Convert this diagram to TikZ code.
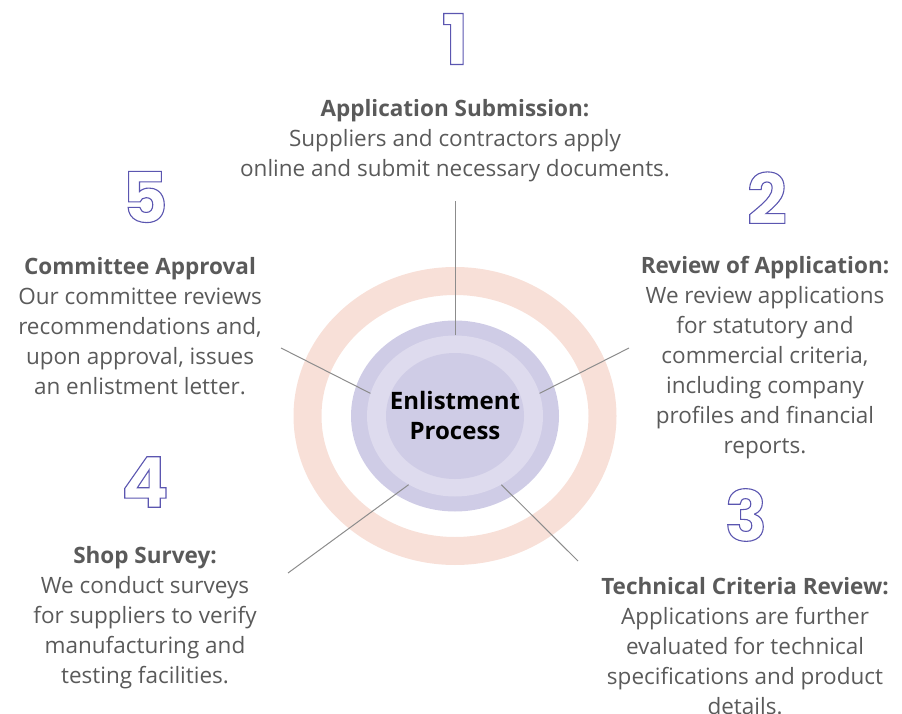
\documentclass[tikz,border=0pt]{standalone}
\usepackage{fontspec}
\setmainfont{Open Sans}
\newfontfamily\digitfont{Poppins}
\usetikzlibrary{shapes.geometric}

\definecolor{ringpeach}{HTML}{F8E0D8}
\definecolor{lavdark}{HTML}{CFCCE6}
\definecolor{lavlight}{HTML}{DEDBEE}
\definecolor{digitblue}{HTML}{5B56B0}
\definecolor{textgray}{HTML}{5A5A5A}
\definecolor{linegray}{HTML}{8C8C8C}

% hollow digits: stroke the glyph outline only
\newcommand{\hollow}[1]{\special{pdf:literal direct 1 Tr 1.1 w}#1\special{pdf:literal direct 0 Tr}}

\tikzset{
  stepnum/.style={text=digitblue, font=\digitfont\bfseries\fontsize{70}{70}\selectfont, inner sep=0pt},
  steptext/.style={text=textgray, align=center, inner sep=0pt, font=\fontsize{22.5}{30}\selectfont},
  disc/.style={ellipse, inner sep=0pt, draw=none},
  spoke/.style={draw=linegray, line width=1pt}
}

\begin{document}
\begin{tikzpicture}[x=1pt,y=-1pt]
  \useasboundingbox (0,0) rectangle (902,714);

  % rings
  \node[disc, draw=ringpeach, line width=28pt, minimum width=295pt, minimum height=270pt] (ring) at (455,416) {};
  \node[disc, fill=lavdark, minimum width=208pt, minimum height=191pt] (outer) at (455,416) {};
  \node[disc, fill=lavlight, minimum width=176pt, minimum height=161pt] (mid) at (455,416) {};
  \node[disc, fill=lavdark, minimum width=138pt, minimum height=126pt] (inner) at (455,416) {};
  \node[align=center, font=\bfseries\fontsize{24}{30}\selectfont] (hub) at (455,415) {Enlistment\\Process};

  % numbers
  \node[stepnum] (n1) at (455,39) {\hollow{1}};
  \node[stepnum] (n2) at (767,198) {\hollow{2}};
  \node[stepnum] (n3) at (746,515) {\hollow{3}};
  \node[stepnum] (n4) at (145,482) {\hollow{4}};
  \node[stepnum] (n5) at (145,197) {\hollow{5}};

  % descriptions
  \node[steptext] (t1) at (455,141) {\textbf{Application Submission:}\\Suppliers and contractors apply\\online and submit necessary documents.};
  \node[steptext] (t2) at (765,358) {\textbf{Review of Application:}\\We review applications\\for statutory and\\commercial criteria,\\including company\\profiles and financial\\reports.};
  \node[steptext] (t3) at (745,646) {\textbf{Technical Criteria Review:}\\Applications are further\\evaluated for technical\\specifications and product\\details.};
  \node[steptext] (t4) at (145,618) {\textbf{Shop Survey:}\\We conduct surveys\\for suppliers to verify\\manufacturing and\\testing facilities.};
  \node[steptext] (t5) at (140,326) {\textbf{Committee Approval}\\Our committee reviews\\recommendations and,\\upon approval, issues\\an enlistment letter.};

  % spokes
  \coordinate (e1) at (455,201);
  \coordinate (e2) at (629,348);
  \coordinate (e3) at (578,561);
  \coordinate (e4) at (288,573);
  \coordinate (e5) at (281,348);
  \draw[spoke] (mid.90) -- (e1);
  \draw[spoke] (mid.15) -- (e2);
  \draw[spoke] (mid.304) -- (e3);
  \draw[spoke] (mid.236) -- (e4);
  \draw[spoke] (mid.165) -- (e5);
\end{tikzpicture}
\end{document}
